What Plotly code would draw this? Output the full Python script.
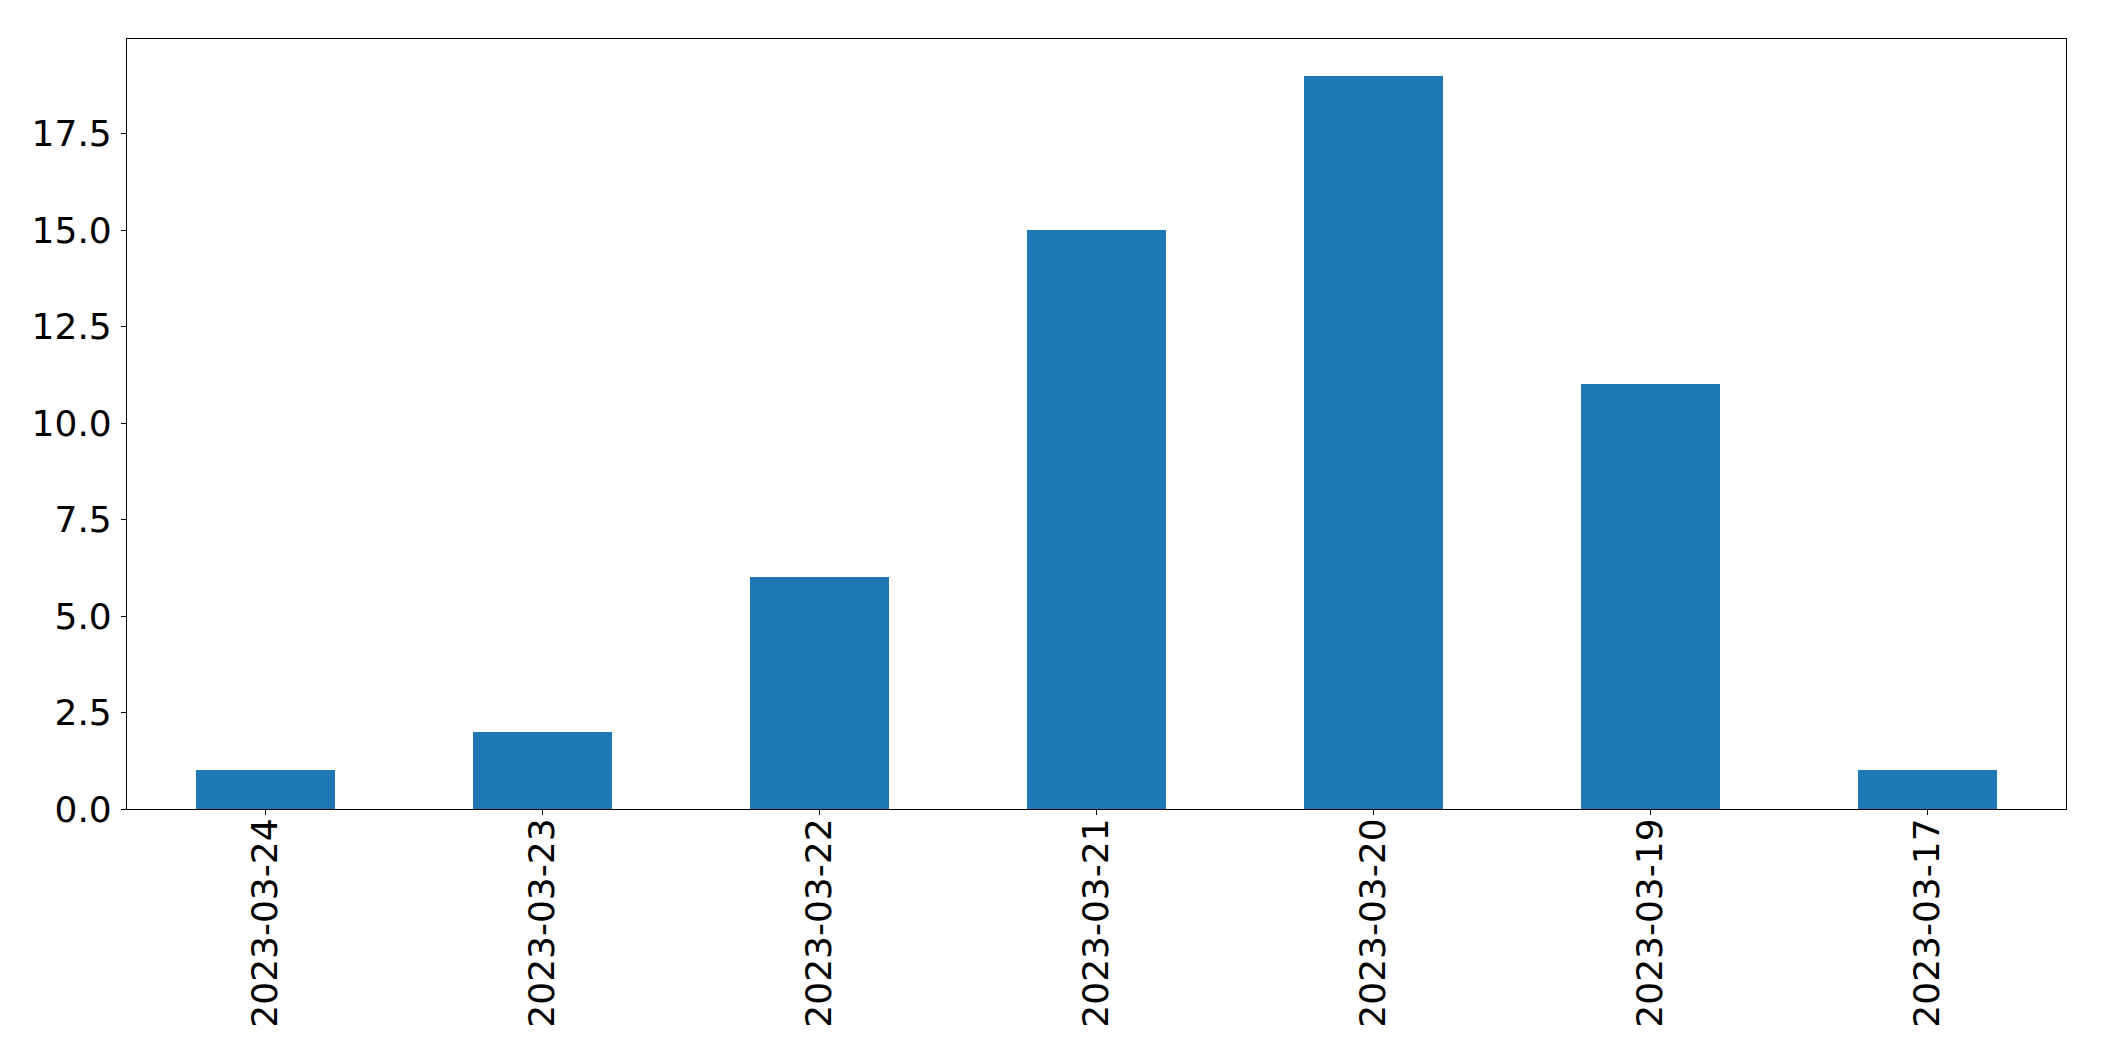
import plotly.graph_objects as go

categories = ["2023-03-24", "2023-03-23", "2023-03-22", "2023-03-21", "2023-03-20", "2023-03-19", "2023-03-17"]
values = [1, 2, 6, 15, 19, 11, 1]
y_ticks = [0, 2.5, 5, 7.5, 10, 12.5, 15, 17.5]

fig = go.Figure()
fig.add_trace(go.Bar(
    x=list(range(len(categories))),
    y=values,
    width=0.5,
    marker=dict(color="#1f77b4", line=dict(width=0)),
))

fig.update_layout(
    width=2096, height=1053,
    margin=dict(l=119, r=38, t=31, b=252, pad=0),
    paper_bgcolor="white", plot_bgcolor="white",
    font=dict(family="DejaVu Sans", size=36, color="black"),
    showlegend=False,
    bargap=0,
)
fig.update_xaxes(
    range=[-0.5, len(categories) - 0.5],
    tickmode="array", tickvals=list(range(len(categories))), ticktext=categories,
    tickangle=-90,
    showline=True, linecolor="black", linewidth=1.1, mirror=True,
    ticks="outside", ticklen=5, tickwidth=1.1, tickcolor="black",
    showgrid=False, zeroline=False,
    ticklabelstandoff=-11,
)
fig.update_yaxes(
    range=[0, 19.95],
    tickmode="array", tickvals=y_ticks, ticktext=[f"{v:.1f}" for v in y_ticks],
    showline=True, linecolor="black", linewidth=1.1, mirror=True,
    ticks="outside", ticklen=5, tickwidth=1.1, tickcolor="black",
    showgrid=False, zeroline=False,
    ticklabelstandoff=2,
)

fig.write_html("out.html")
